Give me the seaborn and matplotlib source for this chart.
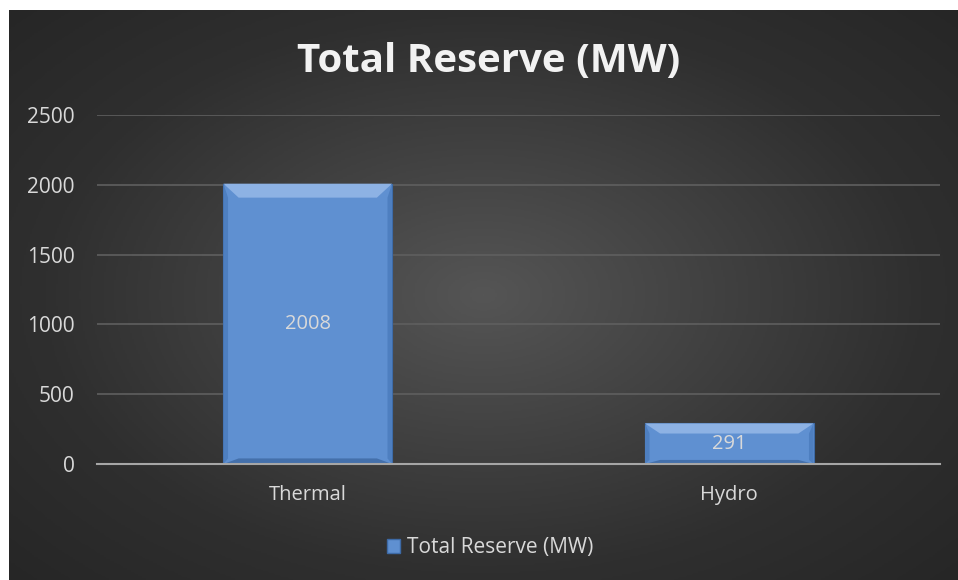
import numpy as np
import pandas as pd
import matplotlib
matplotlib.use('Agg')
import matplotlib.pyplot as plt
from matplotlib.patches import Polygon
import seaborn as sns

# data
categories = ['Thermal', 'Hydro']
reserve_mw = [2008, 291]
y_ticks = [0, 500, 1000, 1500, 2000, 2500]
series_name = 'Total Reserve (MW)'

df = pd.DataFrame({'source': categories, 'reserve': reserve_mw})

sns.set_style('dark')
plt.rcParams['font.family'] = ['Open Sans', 'DejaVu Sans']
txt = '#d9d9d9'

fig = plt.figure(figsize=(9.58, 5.8), dpi=100)
fig.patch.set_facecolor('white')

# dark chart area with a soft radial gradient
bg = fig.add_axes([9 / 958, 0, 1 - 9 / 958, 1 - 10 / 580])
yy, xx = np.mgrid[-1:1:300j, -1:1:500j]
r = np.sqrt((xx * 0.9) ** 2 + (yy * 0.85) ** 2)
bg.imshow(r, cmap=sns.blend_palette(['#555555', '#424242', '#2f2f2f', '#262626'], as_cmap=True),
          aspect='auto', extent=[0, 1, 0, 1], vmin=0, vmax=1.25)
bg.set_axis_off()

ax = fig.add_axes([97 / 958, (580 - 464) / 580, (940 - 97) / 958, (464 - 115) / 580])
ax.patch.set_alpha(0)
sns.barplot(data=df, x='source', y='reserve', color='#5f90d1', width=0.4,
            saturation=1, ax=ax, edgecolor='#3d6aa6', linewidth=0.8, zorder=3)

# bevel look on each bar
for p in ax.patches:
    x0, y0 = p.get_x(), p.get_y()
    w, h = p.get_width(), p.get_height()
    dx = w * 0.09
    dy = min(h * 0.25, 2500 * 0.04)
    ax.add_patch(Polygon([[x0, y0 + h], [x0 + w, y0 + h], [x0 + w - dx, y0 + h - dy],
                          [x0 + dx, y0 + h - dy]], closed=True, fc='#8db2e4', ec='none', zorder=4))
    ax.add_patch(Polygon([[x0, y0], [x0 + w, y0], [x0 + w - dx, y0 + dy * 0.4],
                          [x0 + dx, y0 + dy * 0.4]], closed=True, fc='#4470ab', ec='none', zorder=4))
    ax.add_patch(Polygon([[x0, y0], [x0, y0 + h], [x0 + dx * 0.3, y0 + h - dy],
                          [x0 + dx * 0.3, y0 + dy * 0.4]], closed=True, fc='#4e7fc0', ec='none', zorder=4))
    ax.add_patch(Polygon([[x0 + w, y0], [x0 + w, y0 + h], [x0 + w - dx * 0.3, y0 + h - dy],
                          [x0 + w - dx * 0.3, y0 + dy * 0.4]], closed=True, fc='#4e7fc0', ec='none', zorder=4))

for i, v in enumerate(reserve_mw):
    ax.text(i, v / 2, str(v), ha='center', va='center', color=txt, fontsize=14.5, zorder=5)

ax.set_ylim(0, 2500)
ax.set_xlim(-0.5, 1.5)
ax.set_yticks(y_ticks)
ax.set_yticklabels([str(t) for t in y_ticks], color=txt, fontsize=15)
ax.set_xticks([0, 1])
ax.set_xticklabels(categories, color=txt, fontsize=14.5)
ax.set_xticks([-0.5, 0.5, 1.5], minor=True)
ax.tick_params(axis='x', which='major', length=0, pad=15)
ax.tick_params(axis='x', which='minor', length=6, color='#a6a6a6', width=1.5, direction='out')
ax.tick_params(axis='y', length=0, pad=16)
ax.set_xlabel('')
ax.set_ylabel('')
ax.grid(axis='y', color='#5f5f5f', linewidth=1.2, zorder=0)
ax.grid(axis='x', visible=False)
for s in ['top', 'right', 'left']:
    ax.spines[s].set_visible(False)
ax.spines['bottom'].set_color('#a6a6a6')
ax.spines['bottom'].set_linewidth(1.5)
ax.spines['bottom'].set_zorder(6)

fig.text(489 / 958, 1 - 61 / 580, series_name, ha='center', va='center', color='#f2f2f2',
         fontsize=29, fontweight='bold')

handle = plt.Rectangle((0, 0), 1, 1, fc='#5f90d1', ec='#3d6aa6')
fig.legend([handle], [series_name], loc='center', bbox_to_anchor=(490 / 958, 1 - 548 / 580),
           frameon=False, labelcolor=txt, fontsize=15, handlelength=0.65, handleheight=0.65,
           handletextpad=0.3)

fig.savefig('out.png', dpi=100, facecolor=fig.get_facecolor())
